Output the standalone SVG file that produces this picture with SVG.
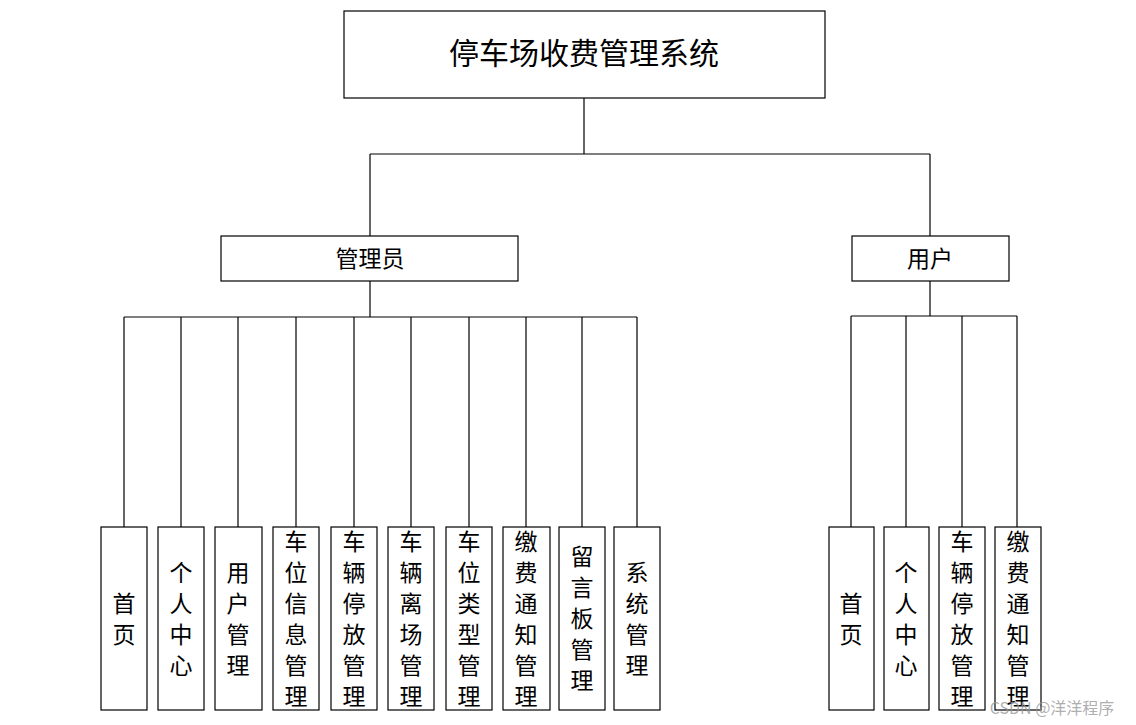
<svg xmlns="http://www.w3.org/2000/svg" width="1136" height="725" viewBox="0 0 1136 725">
<style>
rect{fill:#fff;stroke:#000;stroke-width:1.2}
.c{fill:none;stroke:#000;stroke-width:1.2}
text{font-family:"Noto Sans CJK SC","Liberation Sans",sans-serif;fill:#000;text-anchor:middle}
.v{font-size:23px}
</style>
<rect x="0" y="0" width="1136" height="725" style="fill:#fff;stroke:none"/>
<g id="connectors">
<path class="c" d="M584 98V154M370 154H930M370 154V236M930 154V236"/>
<path class="c" d="M370 281V317M124 317H637M124 317V527M181 317V527M238 317V527M296 317V527M354 317V527M411 317V527M469 317V527M526 317V527M582 317V527M637 317V527"/>
<path class="c" d="M930 281V316M851 316H1017M851 316V527M906 316V527M962 316V527M1017 316V527"/>
</g>
<g id="root"><rect x="344" y="11" width="481" height="87"/><text x="584" y="64" font-size="30">停车场收费管理系统</text></g>
<g id="admin"><rect x="221" y="236" width="297" height="45"/><text x="370" y="267" font-size="23">管理员</text></g>
<g id="user"><rect x="852" y="236" width="157" height="45"/><text x="930" y="267" font-size="23">用户</text></g>
<g id="a1"><rect x="101" y="527" width="46" height="183"/><text class="v" x="124" y="612">首</text><text class="v" x="124" y="643">页</text></g>
<g id="a2"><rect x="158" y="527" width="46" height="183"/><text class="v" x="181" y="581">个</text><text class="v" x="181" y="612">人</text><text class="v" x="181" y="643">中</text><text class="v" x="181" y="674">心</text></g>
<g id="a3"><rect x="215" y="527" width="47" height="183"/><text class="v" x="238" y="581">用</text><text class="v" x="238" y="612">户</text><text class="v" x="238" y="643">管</text><text class="v" x="238" y="674">理</text></g>
<g id="a4"><rect x="273" y="527" width="46" height="183"/><text class="v" x="296" y="550">车</text><text class="v" x="296" y="581">位</text><text class="v" x="296" y="612">信</text><text class="v" x="296" y="643">息</text><text class="v" x="296" y="674">管</text><text class="v" x="296" y="705">理</text></g>
<g id="a5"><rect x="331" y="527" width="46" height="183"/><text class="v" x="354" y="550">车</text><text class="v" x="354" y="581">辆</text><text class="v" x="354" y="612">停</text><text class="v" x="354" y="643">放</text><text class="v" x="354" y="674">管</text><text class="v" x="354" y="705">理</text></g>
<g id="a6"><rect x="388" y="527" width="46" height="183"/><text class="v" x="411" y="550">车</text><text class="v" x="411" y="581">辆</text><text class="v" x="411" y="612">离</text><text class="v" x="411" y="643">场</text><text class="v" x="411" y="674">管</text><text class="v" x="411" y="705">理</text></g>
<g id="a7"><rect x="446" y="527" width="46" height="183"/><text class="v" x="469" y="550">车</text><text class="v" x="469" y="581">位</text><text class="v" x="469" y="612">类</text><text class="v" x="469" y="643">型</text><text class="v" x="469" y="674">管</text><text class="v" x="469" y="705">理</text></g>
<g id="a8"><rect x="503" y="527" width="47" height="183"/><text class="v" x="526" y="550">缴</text><text class="v" x="526" y="581">费</text><text class="v" x="526" y="612">通</text><text class="v" x="526" y="643">知</text><text class="v" x="526" y="674">管</text><text class="v" x="526" y="705">理</text></g>
<g id="a9"><rect x="559" y="527" width="46" height="183"/><text class="v" x="582" y="565">留</text><text class="v" x="582" y="596">言</text><text class="v" x="582" y="627">板</text><text class="v" x="582" y="658">管</text><text class="v" x="582" y="689">理</text></g>
<g id="a10"><rect x="614" y="527" width="46" height="183"/><text class="v" x="637" y="581">系</text><text class="v" x="637" y="612">统</text><text class="v" x="637" y="643">管</text><text class="v" x="637" y="674">理</text></g>
<g id="u1"><rect x="829" y="527" width="45" height="183"/><text class="v" x="851" y="612">首</text><text class="v" x="851" y="643">页</text></g>
<g id="u2"><rect x="884" y="527" width="45" height="183"/><text class="v" x="906" y="581">个</text><text class="v" x="906" y="612">人</text><text class="v" x="906" y="643">中</text><text class="v" x="906" y="674">心</text></g>
<g id="u3"><rect x="939" y="527" width="46" height="183"/><text class="v" x="962" y="550">车</text><text class="v" x="962" y="581">辆</text><text class="v" x="962" y="612">停</text><text class="v" x="962" y="643">放</text><text class="v" x="962" y="674">管</text><text class="v" x="962" y="705">理</text></g>
<g id="u4"><rect x="995" y="527" width="46" height="183"/><text class="v" x="1018" y="550">缴</text><text class="v" x="1018" y="581">费</text><text class="v" x="1018" y="612">通</text><text class="v" x="1018" y="643">知</text><text class="v" x="1018" y="674">管</text><text class="v" x="1018" y="705">理</text></g>
<text x="1052" y="714" font-size="16" style="fill:#999;fill-opacity:0.8">CSDN @洋洋程序</text>
</svg>
